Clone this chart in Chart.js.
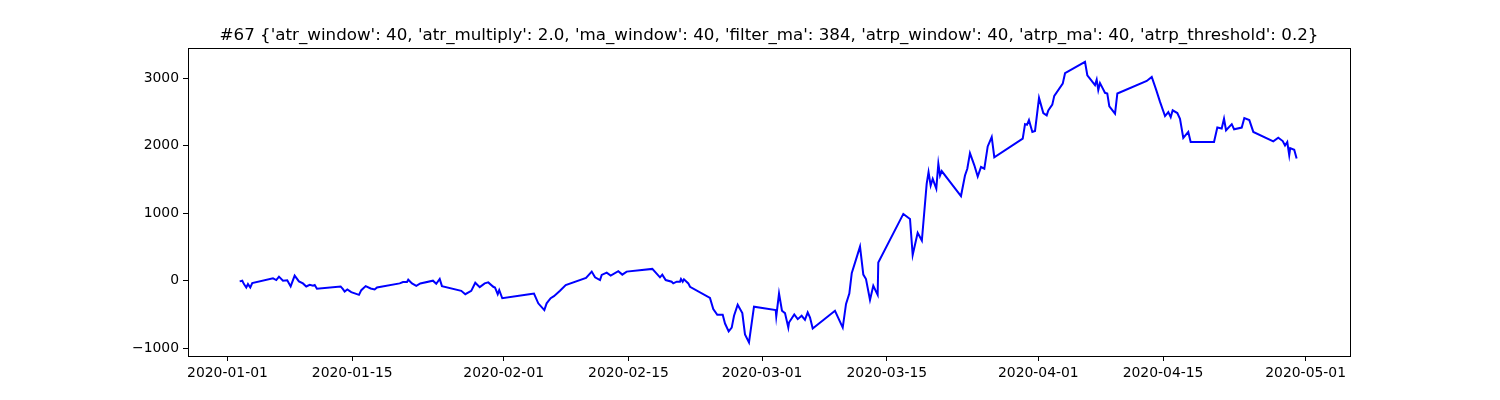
<!DOCTYPE html>
<html>
<head>
<meta charset="utf-8">
<script src="https://cdn.jsdelivr.net/npm/chart.js@4.4.0/dist/chart.umd.min.js"></script>
<style>
  html, body { margin: 0; padding: 0; background: #fff; }
  #wrap { width: 1500px; height: 400px; position: relative; }
</style>
</head>
<body>
<div id="wrap"><canvas id="c"></canvas></div>
<script>
const titleText = "#67 {'atr_window': 40, 'atr_multiply': 2.0, 'ma_window': 40, 'filter_ma': 384, 'atrp_window': 40, 'atrp_ma': 40, 'atrp_threshold': 0.2}";

// days since 2020-01-01
const days = [
  1.37, 1.66, 1.85, 2.11, 2.30, 2.56, 2.78, 5.11, 5.48, 5.78, 6.23, 6.71, 7.09, 7.54, 8.02, 8.47, 8.84, 9.23, 9.60, 9.79,
  10.04, 12.70, 12.96, 13.15, 13.45, 13.89, 14.76, 15.02, 15.51, 16.07, 16.52, 16.78, 19.33, 19.70, 20.15, 20.29, 20.71, 21.19, 21.64, 23.06,
  23.43, 23.82, 24.07, 26.24, 26.69, 27.36, 27.81, 28.31, 28.87, 29.27, 29.83, 30.02, 30.33, 30.50, 30.84, 33.87, 34.40, 34.88, 35.56, 35.82,
  36.27, 36.64, 37.32, 37.96, 40.24, 40.88, 41.25, 41.81, 42.00, 42.56, 43.01, 43.86, 44.31, 44.80, 47.68, 48.54, 48.80, 49.18, 49.85, 50.03,
  50.42, 50.79, 50.90, 51.09, 51.23, 51.72, 51.91, 54.15, 54.52, 54.97, 55.58, 55.84, 56.25, 56.59, 56.85, 57.26, 57.78, 58.08, 58.53, 59.09,
  61.53, 61.59, 61.90, 62.23, 62.57, 62.94, 63.02, 63.61, 64.00, 64.44, 64.81, 65.12, 65.38, 65.68, 68.18, 69.05, 69.42, 69.79, 70.06, 70.99,
  71.36, 71.66, 72.11, 72.48, 72.97, 73.04, 75.85, 76.60, 76.90, 77.46, 77.93, 78.47, 78.68, 78.92, 79.15, 79.55, 79.78, 79.97, 80.16, 82.32,
  82.77, 83.03, 83.33, 83.82, 84.20, 84.57, 84.94, 85.32, 85.77, 86.06, 89.25, 89.51, 89.73, 89.95, 90.33, 90.63, 91.08, 91.56, 91.94, 92.12,
  92.57, 92.79, 93.74, 94.00, 96.24, 96.50, 96.88, 97.36, 97.55, 97.73, 97.92, 98.23, 98.48, 98.74, 98.97, 99.61, 99.87, 103.17, 103.73, 104.21,
  104.66, 105.22, 105.59, 105.86, 106.08, 106.60, 106.90, 107.27, 107.83, 108.10, 110.72, 111.09, 111.58, 111.84, 112.07, 112.71, 112.97, 113.83, 114.12, 114.68,
  115.13, 117.37, 117.93, 118.43, 118.69, 118.94, 119.16, 119.27, 119.72, 119.99
];

const values = [
  -10, 0, -50, -100, -50, -100, -35, 35, 10, 60, 0, 5, -85, 75, -10, -40, -85, -60, -75, -65,
  -120, -85, -125, -160, -130, -170, -210, -140, -80, -115, -130, -100, -40, -20, -20, 15, -40, -75, -40, 0,
  -45, 25, -80, -150, -200, -150, -30, -95, -40, -25, -90, -100, -200, -140, -260, -200, -190, -335, -435, -335,
  -260, -230, -150, -65, 40, 135, 50, 10, 85, 120, 75, 140, 90, 135, 175, 50, 90, 10, -15, -40,
  -15, -15, 25, -15, 20, -40, -90, -255, -420, -505, -505, -635, -750, -695, -520, -355, -480, -795, -915, -385,
  -435, -530, -190, -445, -480, -695, -620, -500, -570, -520, -580, -470, -545, -710, -445, -695, -345, -190, 110, 505,
  90, 25, -285, -75, -210, 270, 990, 915, 380, 710, 595, 1435, 1610, 1410, 1510, 1365, 1735, 1560, 1625, 1255,
  1560, 1660, 1890, 1710, 1545, 1685, 1660, 1990, 2130, 1830, 2105, 2320, 2310, 2380, 2205, 2220, 2710, 2485, 2450, 2525,
  2610, 2740, 2920, 3075, 3245, 3045, 2980, 2900, 2980, 2825, 2930, 2850, 2785, 2775, 2585, 2475, 2775, 2960, 3020, 2835,
  2650, 2440, 2500, 2425, 2525, 2485, 2400, 2115, 2205, 2055, 2055, 2270, 2255, 2400, 2230, 2320, 2245, 2270, 2410, 2380,
  2205, 2065, 2120, 2070, 2005, 2055, 1860, 1965, 1940, 1810
];

const xTickDays = [0, 14, 31, 45, 60, 74, 91, 105, 121];
const xTickLabels = ['2020-01-01', '2020-01-15', '2020-02-01', '2020-02-15', '2020-03-01', '2020-03-15', '2020-04-01', '2020-04-15', '2020-05-01'];
const yTickValues = [-1000, 0, 1000, 2000, 3000];

const points = days.map((d, i) => ({ x: d, y: values[i] }));

const frameAndTitle = {
  id: 'frameAndTitle',
  afterDraw(chart) {
    const a = chart.chartArea;
    const ctx = chart.ctx;
    ctx.save();
    ctx.strokeStyle = '#000';
    ctx.lineWidth = 1;
    ctx.strokeRect(Math.round(a.left) + 0.5, Math.round(a.top) + 0.5, Math.round(a.right - a.left), Math.round(a.bottom - a.top));
    ctx.fillStyle = '#000';
    ctx.font = "16.7px 'DejaVu Sans', sans-serif";
    ctx.textAlign = 'center';
    ctx.textBaseline = 'alphabetic';
    ctx.fillText(titleText, (a.left + a.right) / 2, 40);
    ctx.restore();
  }
};

Chart.defaults.font.family = "'DejaVu Sans', sans-serif";
Chart.defaults.color = '#000';

new Chart(document.getElementById('c'), {
  type: 'line',
  data: {
    datasets: [{
      data: points,
      borderColor: '#0000ff',
      borderWidth: 2,
      pointRadius: 0,
      tension: 0,
      fill: false
    }]
  },
  options: {
    responsive: true,
    maintainAspectRatio: false,
    animation: false,
    devicePixelRatio: 1,
    layout: { padding: { left: 0, right: 150, top: 48, bottom: 0 } },
    plugins: {
      legend: { display: false },
      tooltip: { enabled: false },
      title: { display: false }
    },
    scales: {
      x: {
        type: 'linear',
        min: -4.43,
        max: 125.98,
        afterBuildTicks(scale) { scale.ticks = xTickDays.map(v => ({ value: v })); },
        afterFit(scale) { scale.height = 44; },
        ticks: {
          autoSkip: false,
          maxRotation: 0,
          padding: 4,
          font: { size: 13.9 },
          color: '#000',
          callback(value) { const i = xTickDays.indexOf(value); return i >= 0 ? xTickLabels[i] : ''; }
        },
        grid: { drawOnChartArea: false, drawTicks: true, tickLength: 5, color: '#000', tickColor: '#000' },
        border: { display: true, color: '#000', width: 1 }
      },
      y: {
        type: 'linear',
        min: -1116,
        max: 3449,
        afterBuildTicks(scale) { scale.ticks = yTickValues.map(v => ({ value: v })); },
        afterFit(scale) { scale.width = 188; },
        ticks: {
          padding: 4,
          font: { size: 13.9 },
          color: '#000',
          callback(value) { return String(value).replace('-', '\u2212'); }
        },
        grid: { drawOnChartArea: false, drawTicks: true, tickLength: 5, color: '#000', tickColor: '#000' },
        border: { display: true, color: '#000', width: 1 }
      }
    }
  },
  plugins: [frameAndTitle]
});
</script>
</body>
</html>
